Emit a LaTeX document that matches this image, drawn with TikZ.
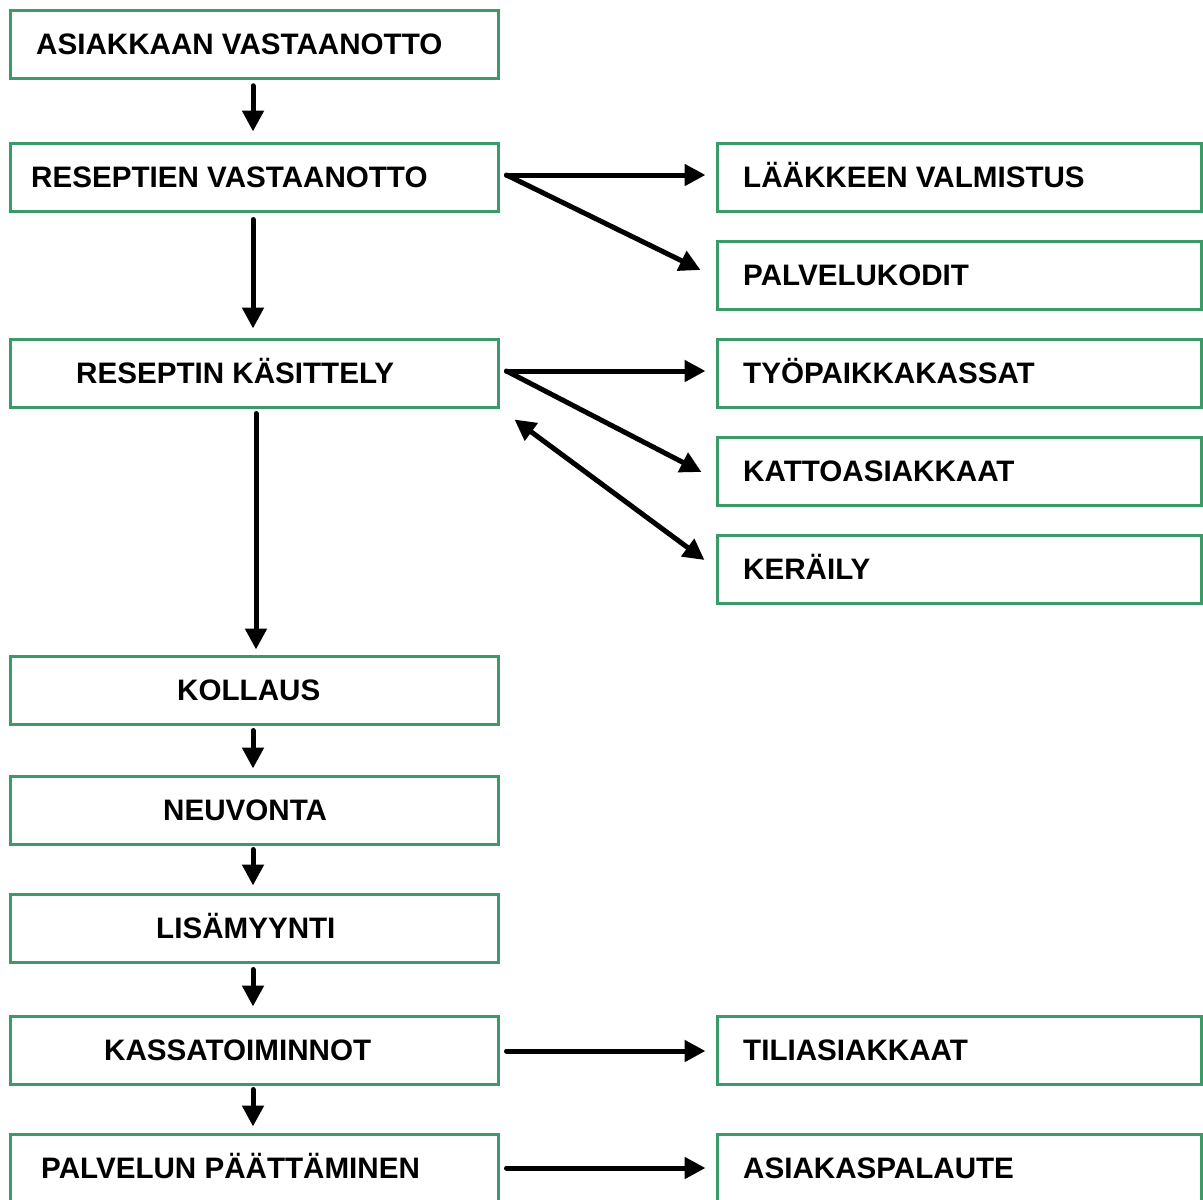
\documentclass[tikz,border=0pt]{standalone}
\usepackage{fontspec}
\setmainfont{Liberation Sans}
\usetikzlibrary{arrows.meta}
\definecolor{boxgreen}{HTML}{3A9A68}
\begin{document}
\begin{tikzpicture}[x=1pt,y=-1pt,
  box/.style={draw=boxgreen, line width=3pt, rectangle, inner sep=0pt,
              minimum height=68pt},
  lbox/.style={box, minimum width=488pt},
  rbox/.style={box, minimum width=484pt},
  lbl/.style={anchor=base west, inner sep=0pt,
              font=\fontsize{29.6}{34}\selectfont\bfseries},
  arr/.style={line width=5pt, line cap=round,
              -{Triangle[length=21pt,width=21pt]}},
  darr/.style={line width=5pt,
              {Triangle[length=21pt,width=21pt]}-{Triangle[length=21pt,width=21pt]}}]
\useasboundingbox (0,0) rectangle (1203,1200);

% main process column
\node[lbox] (av) at (254.5,44.25) {};
\node[lbl] (tav) at (36,54) {ASIAKKAAN VASTAANOTTO};
\node[lbox] (rv) at (254.5,177.5) {};
\node[lbl] (trv) at (31,187.5) {RESEPTIEN VASTAANOTTO};
\node[lbox] (rk) at (254.5,373.5) {};
\node[lbl] (trk) at (76,383.5) {RESEPTIN KÄSITTELY};
\node[lbox] (ko) at (254.5,690) {};
\node[lbl] (tko) at (177,700) {KOLLAUS};
\node[lbox] (ne) at (254.5,810.5) {};
\node[lbl] (tne) at (163,820.5) {NEUVONTA};
\node[lbox] (li) at (254.5,928.5) {};
\node[lbl] (tli) at (156,938.5) {LISÄMYYNTI};
\node[lbox] (ks) at (254.5,1050.5) {};
\node[lbl] (tks) at (104,1060.5) {KASSATOIMINNOT};
\node[lbox] (pp) at (254.5,1168) {};
\node[lbl] (tpp) at (41,1178) {PALVELUN PÄÄTTÄMINEN};

% side branches
\node[rbox] (lv) at (959.5,177.5) {};
\node[lbl] (tlv) at (743,187.5) {LÄÄKKEEN VALMISTUS};
\node[rbox] (pk) at (959.5,275.5) {};
\node[lbl] (tpk) at (743,285.5) {PALVELUKODIT};
\node[rbox] (ty) at (959.5,373.5) {};
\node[lbl] (tty) at (743,383.5) {TYÖPAIKKAKASSAT};
\node[rbox] (ka) at (959.5,471.5) {};
\node[lbl] (tka) at (743,481.5) {KATTOASIAKKAAT};
\node[rbox] (ke) at (959.5,569.5) {};
\node[lbl] (tke) at (743,579.5) {KERÄILY};
\node[rbox] (ta) at (959.5,1050.5) {};
\node[lbl] (tta) at (743,1060.5) {TILIASIAKKAAT};
\node[rbox] (ap) at (959.5,1168) {};
\node[lbl] (tap) at (743,1178) {ASIAKASPALAUTE};

% vertical flow
\draw[arr] ([xshift=-1.5pt,yshift=-6pt]av.south) -- ([xshift=-1.5pt,yshift=10.5pt]rv.north);
\draw[arr] ([xshift=-1.5pt,yshift=-6.5pt]rv.south) -- ([xshift=-1.5pt,yshift=9.5pt]rk.north);
\draw[arr] ([xshift=1.5pt,yshift=-4.5pt]rk.south) -- ([xshift=1.5pt,yshift=5pt]ko.north);
\draw[arr] ([xshift=-1.5pt,yshift=-5pt]ko.south) -- ([xshift=-1.5pt,yshift=6.5pt]ne.north);
\draw[arr] ([xshift=-1.5pt,yshift=-3.5pt]ne.south) -- ([xshift=-1.5pt,yshift=7.5pt]li.north);
\draw[arr] ([xshift=-1.5pt,yshift=-5.5pt]li.south) -- ([xshift=-1.5pt,yshift=8.5pt]ks.north);
\draw[arr] ([xshift=-1.5pt,yshift=-3.5pt]ks.south) -- ([xshift=-1.5pt,yshift=6pt]pp.north);

% branches to the right
\draw[arr] ([xshift=6.5pt,yshift=2.5pt]rv.east) -- ([xshift=-10.5pt,yshift=2.5pt]lv.west);
\draw[arr] ([xshift=6.5pt,yshift=2.5pt]rv.east) -- ([xshift=-15.5pt,yshift=5.5pt]pk.west);
\draw[arr] ([xshift=6.5pt,yshift=2.5pt]rk.east) -- ([xshift=-10.5pt,yshift=2.5pt]ty.west);
\draw[arr] ([xshift=6.5pt,yshift=2.5pt]rk.east) -- ([xshift=-14.5pt,yshift=-0.5pt]ka.west);
\draw[darr] ([xshift=14.5pt,yshift=-10.5pt]rk.south east) -- ([xshift=-11.5pt,yshift=9.5pt]ke.west);
\draw[arr] ([xshift=6.5pt,yshift=-0.5pt]ks.east) -- ([xshift=-10.5pt,yshift=-0.5pt]ta.west);
\draw[arr] ([xshift=6.5pt]pp.east) -- ([xshift=-10.5pt]ap.west);
\end{tikzpicture}
\end{document}
